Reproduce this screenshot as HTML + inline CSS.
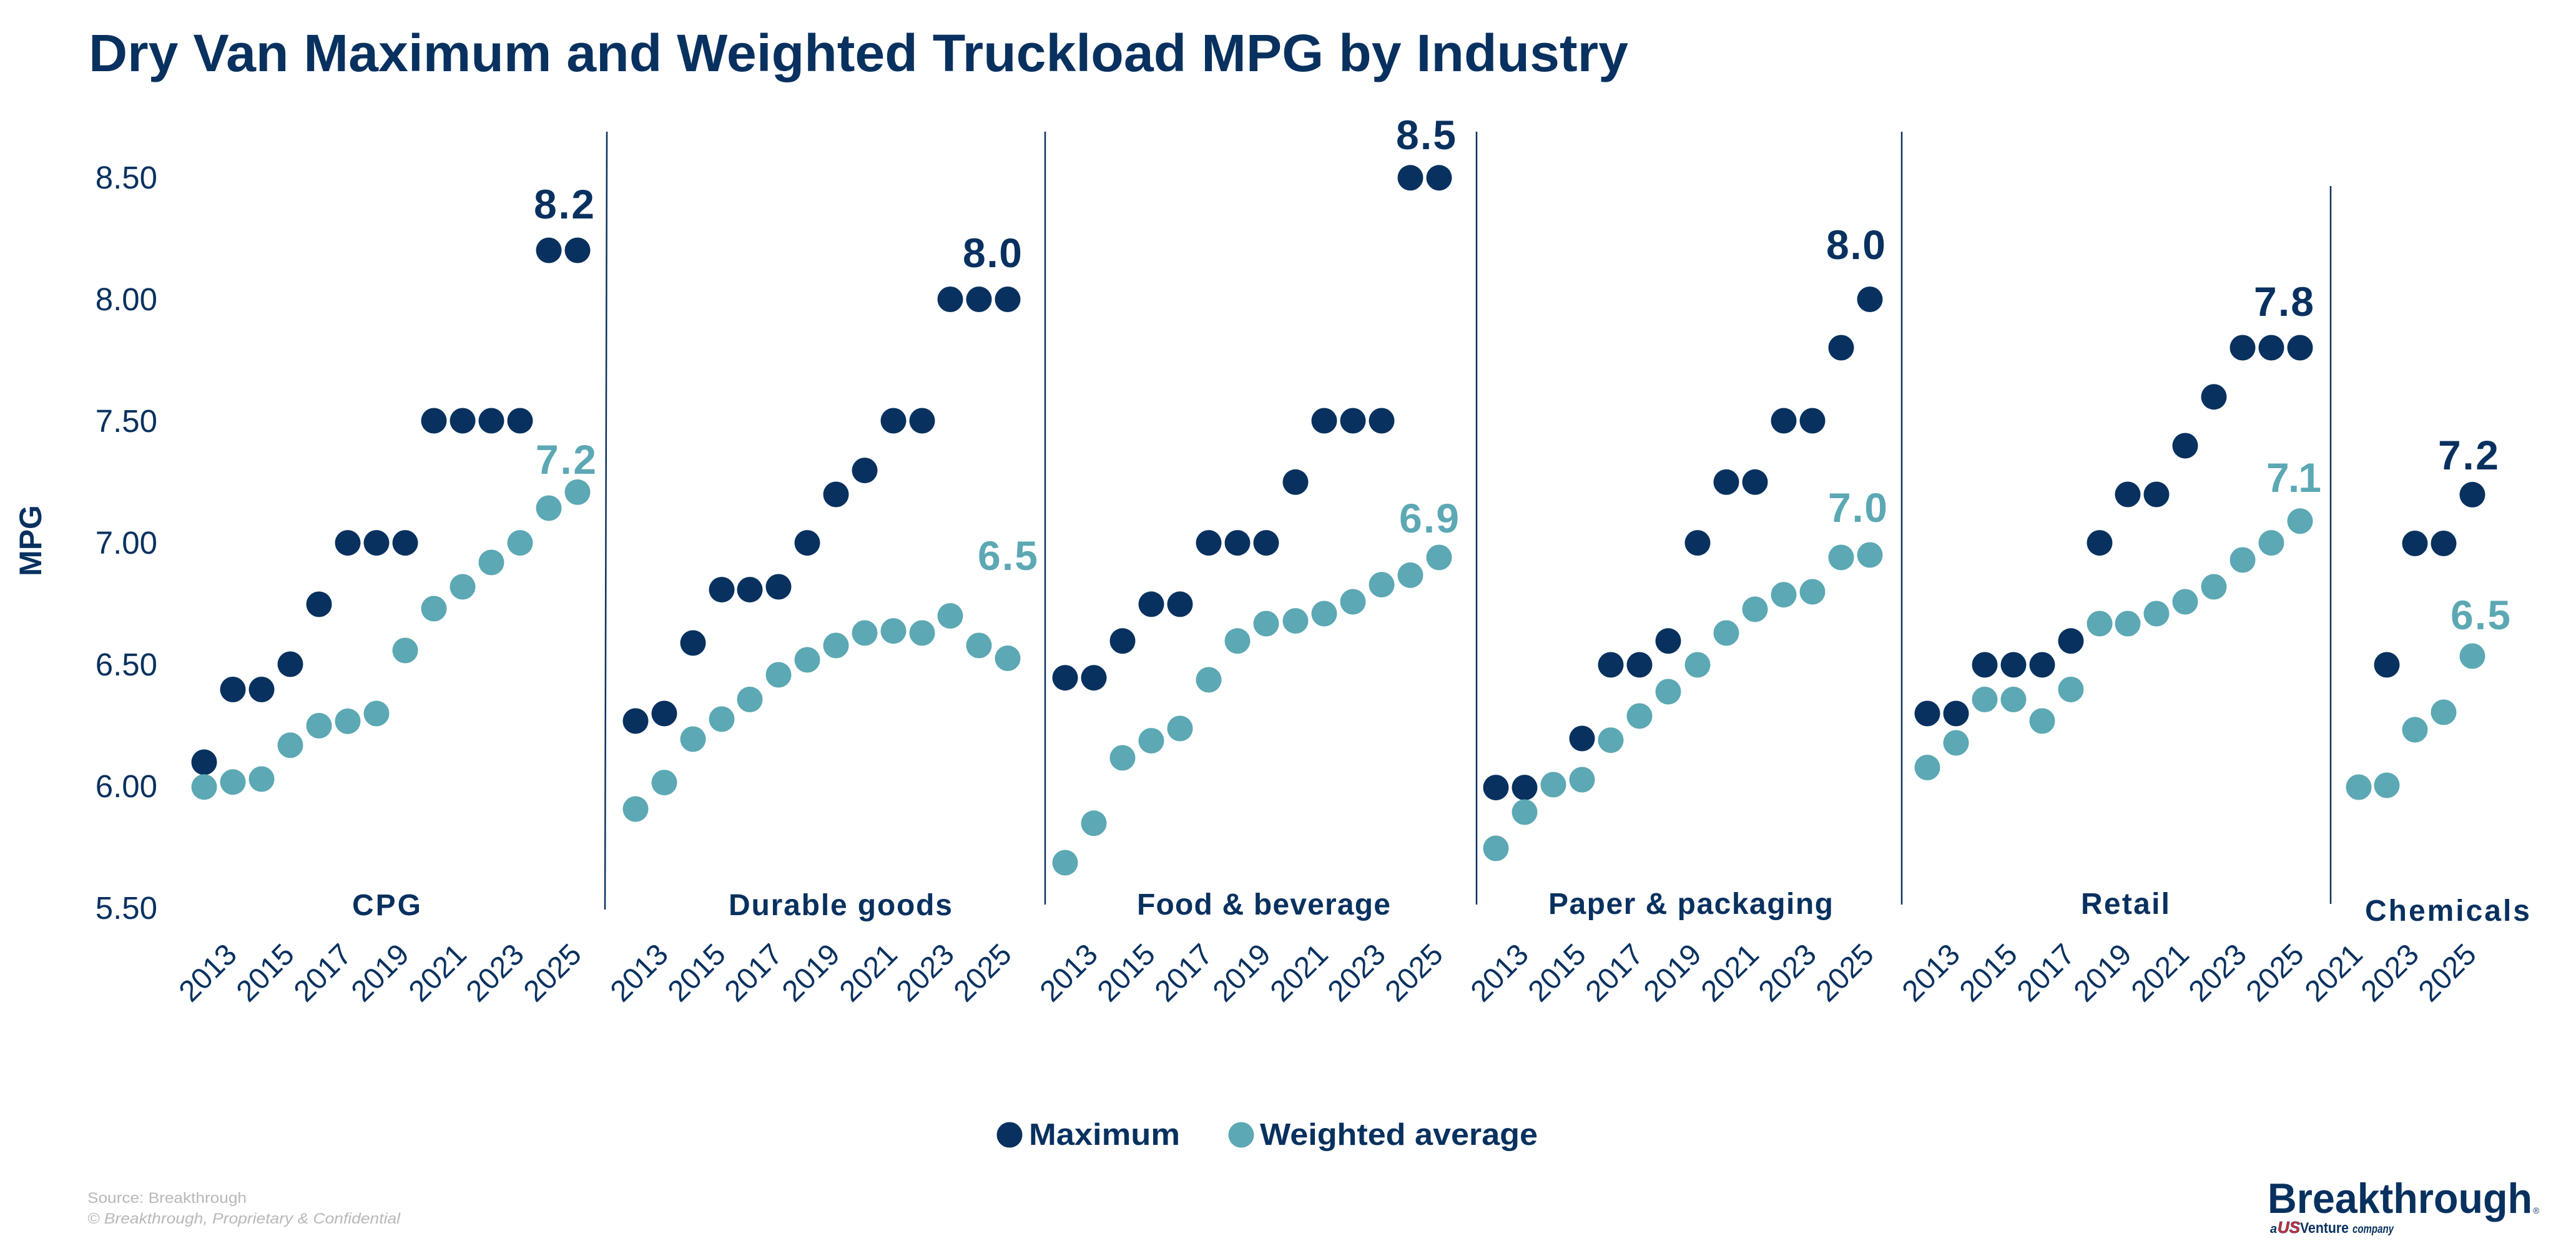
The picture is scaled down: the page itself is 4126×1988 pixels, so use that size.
<!DOCTYPE html>
<html><head><meta charset="utf-8"><style>
html,body{margin:0;padding:0;background:#fff;}
svg{display:block;}
text{font-family:"Liberation Sans",Arial,sans-serif;}
</style></head><body>
<svg width="4126" height="1988" viewBox="0 0 4126 1988" xmlns="http://www.w3.org/2000/svg">
<rect width="4126" height="1988" fill="#fff"/>
<!-- Title -->
<text x="142" y="114" font-size="84" font-weight="bold" fill="#08315f" textLength="2466" lengthAdjust="spacingAndGlyphs">Dry Van Maximum and Weighted Truckload MPG by Industry</text>

<!-- Y axis -->
<text transform="translate(66,866) rotate(-90)" text-anchor="middle" font-size="50" font-weight="bold" fill="#08315f">MPG</text>
<g font-size="51" fill="#08315f" text-anchor="end">
<text x="252" y="302">8.50</text>
<text x="252" y="497">8.00</text>
<text x="252" y="692">7.50</text>
<text x="252" y="887">7.00</text>
<text x="252" y="1082">6.50</text>
<text x="252" y="1277">6.00</text>
<text x="252" y="1472">5.50</text>
</g>

<!-- separators -->
<g stroke="#08315f" stroke-width="2.5">
<line x1="972" y1="211" x2="969" y2="1457"/>
<line x1="1674" y1="211" x2="1674" y2="1449"/>
<line x1="2365" y1="211" x2="2365" y2="1449"/>
<line x1="3046" y1="211" x2="3046" y2="1449"/>
<line x1="3733" y1="298" x2="3733" y2="1448"/>
</g>

<!-- Maximum dots -->
<g fill="#08315f">
<!-- CPG -->
<circle cx="327" cy="1221" r="20.5"/><circle cx="373" cy="1104.5" r="20.5"/><circle cx="419" cy="1104.5" r="20.5"/><circle cx="465" cy="1064" r="20.5"/><circle cx="511" cy="968" r="20.5"/><circle cx="557" cy="869.6" r="20.5"/><circle cx="603" cy="869.6" r="20.5"/><circle cx="649" cy="869.6" r="20.5"/><circle cx="695" cy="674" r="20.5"/><circle cx="741" cy="674" r="20.5"/><circle cx="787" cy="674" r="20.5"/><circle cx="833" cy="674" r="20.5"/><circle cx="879" cy="401" r="20.5"/><circle cx="925" cy="401" r="20.5"/>
<!-- Durable -->
<circle cx="1018" cy="1155" r="20.5"/><circle cx="1064" cy="1143" r="20.5"/><circle cx="1110" cy="1030" r="20.5"/><circle cx="1156" cy="944.6" r="20.5"/><circle cx="1201" cy="944.6" r="20.5"/><circle cx="1247" cy="940" r="20.5"/><circle cx="1293" cy="869.6" r="20.5"/><circle cx="1339" cy="792" r="20.5"/><circle cx="1385" cy="753.6" r="20.5"/><circle cx="1431" cy="674" r="20.5"/><circle cx="1477" cy="674" r="20.5"/><circle cx="1522" cy="479.5" r="20.5"/><circle cx="1568" cy="479.5" r="20.5"/><circle cx="1614" cy="479.5" r="20.5"/>
<!-- Food -->
<circle cx="1706" cy="1085.7" r="20.5"/><circle cx="1752" cy="1085.7" r="20.5"/><circle cx="1798" cy="1026.8" r="20.5"/><circle cx="1844" cy="967.9" r="20.5"/><circle cx="1890" cy="967.9" r="20.5"/><circle cx="1936" cy="869.6" r="20.5"/><circle cx="1982" cy="869.6" r="20.5"/><circle cx="2028" cy="869.6" r="20.5"/><circle cx="2075" cy="772.3" r="20.5"/><circle cx="2121" cy="674" r="20.5"/><circle cx="2167" cy="674" r="20.5"/><circle cx="2213" cy="674" r="20.5"/><circle cx="2259" cy="284.8" r="20.5"/><circle cx="2305" cy="284.8" r="20.5"/>
<!-- Paper -->
<circle cx="2396" cy="1261.6" r="20.5"/><circle cx="2442" cy="1261.6" r="20.5"/><circle cx="2534" cy="1183" r="20.5"/><circle cx="2580" cy="1065" r="20.5"/><circle cx="2626" cy="1065" r="20.5"/><circle cx="2672" cy="1026.8" r="20.5"/><circle cx="2719" cy="869.6" r="20.5"/><circle cx="2765" cy="772.3" r="20.5"/><circle cx="2811" cy="772.3" r="20.5"/><circle cx="2857" cy="674" r="20.5"/><circle cx="2903" cy="674" r="20.5"/><circle cx="2949" cy="557" r="20.5"/><circle cx="2995" cy="479.5" r="20.5"/>
<!-- Retail -->
<circle cx="3087" cy="1143" r="20.5"/><circle cx="3133" cy="1143" r="20.5"/><circle cx="3179" cy="1065" r="20.5"/><circle cx="3225" cy="1065" r="20.5"/><circle cx="3271" cy="1065" r="20.5"/><circle cx="3317" cy="1026.8" r="20.5"/><circle cx="3363" cy="869.6" r="20.5"/><circle cx="3408" cy="792" r="20.5"/><circle cx="3454" cy="792" r="20.5"/><circle cx="3500" cy="714" r="20.5"/><circle cx="3546" cy="635.7" r="20.5"/><circle cx="3592" cy="557" r="20.5"/><circle cx="3638" cy="557" r="20.5"/><circle cx="3684" cy="557" r="20.5"/>
<!-- Chemicals -->
<circle cx="3823" cy="1065" r="20.5"/><circle cx="3868" cy="870.5" r="20.5"/><circle cx="3914" cy="870.5" r="20.5"/><circle cx="3960" cy="792.4" r="20.5"/>
</g>

<!-- Weighted average dots -->
<g fill="#5ca8b4">
<!-- CPG -->
<circle cx="327" cy="1260.7" r="20.5"/><circle cx="373" cy="1252.7" r="20.5"/><circle cx="419" cy="1248" r="20.5"/><circle cx="465" cy="1193.8" r="20.5"/><circle cx="511" cy="1162.5" r="20.5"/><circle cx="557" cy="1155.4" r="20.5"/><circle cx="603" cy="1143" r="20.5"/><circle cx="649" cy="1042" r="20.5"/><circle cx="695" cy="975" r="20.5"/><circle cx="741" cy="940" r="20.5"/><circle cx="787" cy="901" r="20.5"/><circle cx="833" cy="869.6" r="20.5"/><circle cx="879" cy="814" r="20.5"/><circle cx="925" cy="788.4" r="20.5"/>
<!-- Durable -->
<circle cx="1018" cy="1296" r="20.5"/><circle cx="1064" cy="1253.6" r="20.5"/><circle cx="1110" cy="1184" r="20.5"/><circle cx="1156" cy="1152" r="20.5"/><circle cx="1201" cy="1120.5" r="20.5"/><circle cx="1247" cy="1081" r="20.5"/><circle cx="1293" cy="1057" r="20.5"/><circle cx="1339" cy="1034" r="20.5"/><circle cx="1385" cy="1014" r="20.5"/><circle cx="1431" cy="1010.7" r="20.5"/><circle cx="1477" cy="1014" r="20.5"/><circle cx="1522" cy="986.6" r="20.5"/><circle cx="1568" cy="1034" r="20.5"/><circle cx="1614" cy="1054.5" r="20.5"/>
<!-- Food -->
<circle cx="1706" cy="1382" r="20.5"/><circle cx="1752" cy="1318.8" r="20.5"/><circle cx="1798" cy="1214" r="20.5"/><circle cx="1844" cy="1186.6" r="20.5"/><circle cx="1890" cy="1167" r="20.5"/><circle cx="1936" cy="1089" r="20.5"/><circle cx="1982" cy="1026.8" r="20.5"/><circle cx="2028" cy="999" r="20.5"/><circle cx="2075" cy="994.6" r="20.5"/><circle cx="2121" cy="983" r="20.5"/><circle cx="2167" cy="964" r="20.5"/><circle cx="2213" cy="936.6" r="20.5"/><circle cx="2259" cy="921.4" r="20.5"/><circle cx="2305" cy="893" r="20.5"/>
<!-- Paper -->
<circle cx="2396" cy="1359" r="20.5"/><circle cx="2442" cy="1301" r="20.5"/><circle cx="2488" cy="1257" r="20.5"/><circle cx="2534" cy="1249" r="20.5"/><circle cx="2580" cy="1185.7" r="20.5"/><circle cx="2626" cy="1147" r="20.5"/><circle cx="2672" cy="1108" r="20.5"/><circle cx="2719" cy="1065" r="20.5"/><circle cx="2765" cy="1014" r="20.5"/><circle cx="2811" cy="976" r="20.5"/><circle cx="2857" cy="952.7" r="20.5"/><circle cx="2903" cy="948" r="20.5"/><circle cx="2949" cy="893" r="20.5"/><circle cx="2995" cy="889" r="20.5"/>
<!-- Retail -->
<circle cx="3087" cy="1229.5" r="20.5"/><circle cx="3133" cy="1190" r="20.5"/><circle cx="3179" cy="1120.5" r="20.5"/><circle cx="3225" cy="1120.5" r="20.5"/><circle cx="3271" cy="1155" r="20.5"/><circle cx="3317" cy="1104.5" r="20.5"/><circle cx="3363" cy="999" r="20.5"/><circle cx="3408" cy="999" r="20.5"/><circle cx="3454" cy="983" r="20.5"/><circle cx="3500" cy="964" r="20.5"/><circle cx="3546" cy="940" r="20.5"/><circle cx="3592" cy="897" r="20.5"/><circle cx="3638" cy="869.6" r="20.5"/><circle cx="3684" cy="834.8" r="20.5"/>
<!-- Chemicals -->
<circle cx="3778" cy="1261" r="20.5"/><circle cx="3823" cy="1258" r="20.5"/><circle cx="3868" cy="1169" r="20.5"/><circle cx="3914" cy="1141" r="20.5"/><circle cx="3960" cy="1051" r="20.5"/>
</g>

<!-- Data labels -->
<g font-size="66" font-weight="bold" lengthAdjust="spacingAndGlyphs">
<text x="855" y="350" fill="#08315f" textLength="97">8.2</text>
<text x="858" y="759" fill="#5ca8b4" textLength="97">7.2</text>
<text x="1542" y="428" fill="#08315f" textLength="95">8.0</text>
<text x="1566" y="913" fill="#5ca8b4" textLength="96">6.5</text>
<text x="2236" y="239" fill="#08315f" textLength="96">8.5</text>
<text x="2241" y="853" fill="#5ca8b4" textLength="96">6.9</text>
<text x="2925" y="415" fill="#08315f" textLength="95">8.0</text>
<text x="2928" y="836" fill="#5ca8b4" textLength="95">7.0</text>
<text x="3610" y="506" fill="#08315f" textLength="96">7.8</text>
<text x="3630" y="788" fill="#5ca8b4" textLength="88">7.1</text>
<text x="3905" y="752" fill="#08315f" textLength="97">7.2</text>
<text x="3925" y="1008" fill="#5ca8b4" textLength="96">6.5</text>
</g>

<!-- Panel titles -->
<g font-size="48" font-weight="bold" fill="#08315f" lengthAdjust="spacingAndGlyphs">
<text x="564" y="1466" textLength="110">CPG</text>
<text x="1167" y="1466" textLength="358">Durable goods</text>
<text x="1821" y="1465" textLength="406">Food &amp; beverage</text>
<text x="2480" y="1464" textLength="456">Paper &amp; packaging</text>
<text x="3333" y="1464" textLength="142">Retail</text>
<text x="3788" y="1475" textLength="264">Chemicals</text>
</g>

<!-- X tick labels -->
<g font-size="48" fill="#08315f" text-anchor="end">
<text transform="translate(382,1532) rotate(-45)">2013</text>
<text transform="translate(474,1532) rotate(-45)">2015</text>
<text transform="translate(566,1532) rotate(-45)">2017</text>
<text transform="translate(658,1532) rotate(-45)">2019</text>
<text transform="translate(750,1532) rotate(-45)">2021</text>
<text transform="translate(842,1532) rotate(-45)">2023</text>
<text transform="translate(934,1532) rotate(-45)">2025</text>

<text transform="translate(1073,1532) rotate(-45)">2013</text>
<text transform="translate(1165,1532) rotate(-45)">2015</text>
<text transform="translate(1256,1532) rotate(-45)">2017</text>
<text transform="translate(1348,1532) rotate(-45)">2019</text>
<text transform="translate(1440,1532) rotate(-45)">2021</text>
<text transform="translate(1531,1532) rotate(-45)">2023</text>
<text transform="translate(1623,1532) rotate(-45)">2025</text>

<text transform="translate(1761,1532) rotate(-45)">2013</text>
<text transform="translate(1853,1532) rotate(-45)">2015</text>
<text transform="translate(1945,1532) rotate(-45)">2017</text>
<text transform="translate(2038,1532) rotate(-45)">2019</text>
<text transform="translate(2130,1532) rotate(-45)">2021</text>
<text transform="translate(2222,1532) rotate(-45)">2023</text>
<text transform="translate(2314,1532) rotate(-45)">2025</text>

<text transform="translate(2451,1532) rotate(-45)">2013</text>
<text transform="translate(2543,1532) rotate(-45)">2015</text>
<text transform="translate(2635,1532) rotate(-45)">2017</text>
<text transform="translate(2728,1532) rotate(-45)">2019</text>
<text transform="translate(2820,1532) rotate(-45)">2021</text>
<text transform="translate(2912,1532) rotate(-45)">2023</text>
<text transform="translate(3004,1532) rotate(-45)">2025</text>

<text transform="translate(3142,1532) rotate(-45)">2013</text>
<text transform="translate(3234,1532) rotate(-45)">2015</text>
<text transform="translate(3326,1532) rotate(-45)">2017</text>
<text transform="translate(3417,1532) rotate(-45)">2019</text>
<text transform="translate(3509,1532) rotate(-45)">2021</text>
<text transform="translate(3601,1532) rotate(-45)">2023</text>
<text transform="translate(3693,1532) rotate(-45)">2025</text>

<text transform="translate(3787,1532) rotate(-45)">2021</text>
<text transform="translate(3877,1532) rotate(-45)">2023</text>
<text transform="translate(3969,1532) rotate(-45)">2025</text>
</g>

<!-- Legend -->
<circle cx="1617" cy="1818" r="20.5" fill="#08315f"/>
<text x="1648" y="1834" font-size="49" font-weight="bold" fill="#08315f" textLength="242" lengthAdjust="spacingAndGlyphs">Maximum</text>
<circle cx="1988" cy="1818" r="20.5" fill="#5ca8b4"/>
<text x="2018" y="1834" font-size="49" font-weight="bold" fill="#08315f" textLength="445" lengthAdjust="spacingAndGlyphs">Weighted average</text>

<!-- Footer -->
<text x="140" y="1927" font-size="24" fill="#b8b8b8" textLength="255" lengthAdjust="spacingAndGlyphs">Source: Breakthrough</text>
<text x="140" y="1960" font-size="24" font-style="italic" fill="#b8b8b8" textLength="501" lengthAdjust="spacingAndGlyphs">© Breakthrough, Proprietary &amp; Confidential</text>

<!-- Logo -->
<text x="3632" y="1943" font-size="68" font-weight="bold" fill="#08315f" textLength="424" lengthAdjust="spacingAndGlyphs">Breakthrough</text>
<text x="4057" y="1944" font-size="14" fill="#08315f">®</text>
<text x="3636" y="1975" font-size="20" font-style="italic" font-weight="bold" fill="#08315f">a</text>
<text x="3648" y="1975" font-size="26" font-style="italic" font-weight="bold" fill="#d42a35" stroke="#08315f" stroke-width="0.6" textLength="36" lengthAdjust="spacingAndGlyphs">US</text>
<text x="3684" y="1975" font-size="24" font-weight="bold" fill="#08315f" textLength="78" lengthAdjust="spacingAndGlyphs">Venture</text>
<text x="3768" y="1975" font-size="19" font-style="italic" font-weight="bold" fill="#08315f" textLength="66" lengthAdjust="spacingAndGlyphs">company</text>
</svg>
</body></html>
